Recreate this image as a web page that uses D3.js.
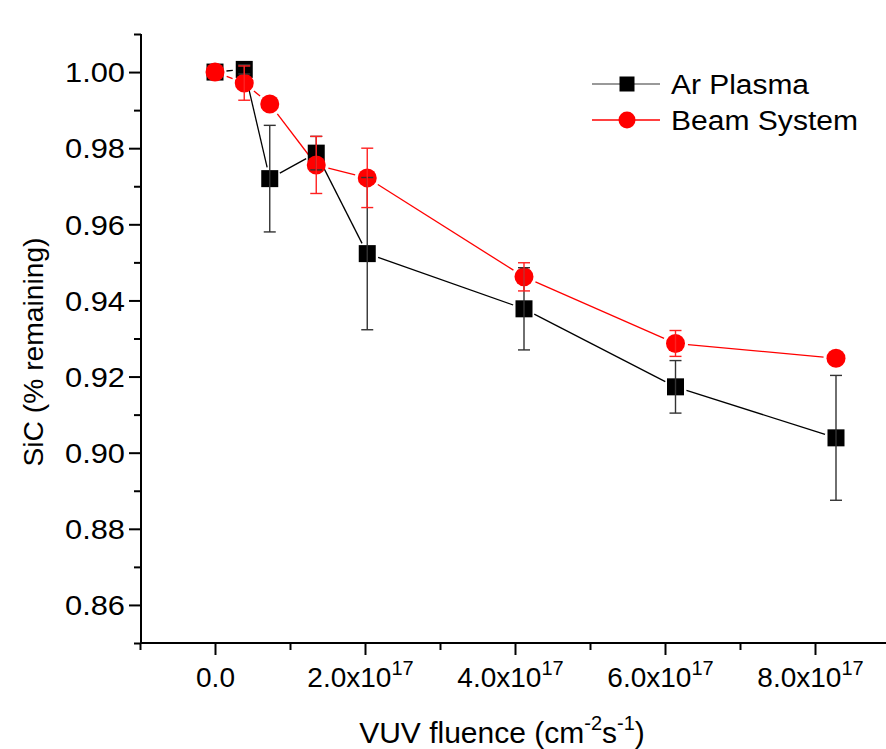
<!DOCTYPE html>
<html>
<head>
<meta charset="utf-8">
<script src="https://cdn.jsdelivr.net/npm/d3@7"></script>
<style>
  html, body { margin: 0; padding: 0; background: #fff; }
  svg { display: block; }
  text { font-family: "Liberation Sans", Arial, Helvetica, sans-serif; fill: #000; }
</style>
</head>
<body>
<svg id="chart" width="886" height="749"></svg>
<script>
// VUV fluence in units of 1e17 cm^-2 s^-1
const arFluence   = [0, 0.39, 0.73, 1.35, 2.03, 4.12, 6.14, 8.28];
const arValues    = [1.000, 1.0007, 0.9720, 0.9787, 0.9523, 0.9378, 0.9173, 0.9039];
const arErrors    = [0, 0.0012, 0.0140, 0.0044, 0.0200, 0.0108, 0.0069, 0.0164];

const beamFluence = [0, 0.39, 0.73, 1.35, 2.03, 4.12, 6.14, 8.28];
const beamValues  = [1.000, 0.9971, 0.9916, 0.9756, 0.9722, 0.9462, 0.9287, 0.9248];
const beamErrors  = [0, 0.0045, 0, 0.0075, 0.0078, 0.0037, 0.0034, 0];

const yMajorTicks = [0.86, 0.88, 0.90, 0.92, 0.94, 0.96, 0.98, 1.00];
const yMinorTicks = [0.85, 0.87, 0.89, 0.91, 0.93, 0.95, 0.97, 0.99, 1.01];
const xMajorTicks = [0, 2, 4, 6, 8];
const xMinorTicks = [-1, 1, 3, 5, 7];

const seriesNames = ["Ar Plasma", "Beam System"];

const svg = d3.select("#chart");

const x = d3.scaleLinear().domain([-1, 9]).range([140, 890]);
const y = d3.scaleLinear().domain([0.85, 1.01]).range([643, 34]);

const AX_X = 141, AX_Y = 643;

// ---- axes ----
const yAxisG = svg.append("g").attr("transform", `translate(${AX_X},0)`);
yAxisG.call(d3.axisLeft(y).tickValues(yMajorTicks).tickSize(12).tickSizeOuter(0)
  .tickFormat(d3.format(".2f")));
yAxisG.select(".domain").remove();
yAxisG.selectAll(".tick line").attr("stroke", "#000").attr("stroke-width", 2);
yAxisG.selectAll(".tick text").attr("x", -16).attr("dy", "0.36em")
  .style("font-size", "27px")
  .attr("textLength", 60).attr("lengthAdjust", "spacingAndGlyphs");

const yMinorG = svg.append("g").attr("transform", `translate(${AX_X},0)`);
yMinorG.call(d3.axisLeft(y).tickValues(yMinorTicks).tickSize(7).tickFormat(""));
yMinorG.select(".domain").remove();
yMinorG.selectAll(".tick line").attr("stroke", "#000").attr("stroke-width", 2);

const xAxisG = svg.append("g").attr("transform", `translate(0,${AX_Y})`);
xAxisG.call(d3.axisBottom(x).tickValues(xMajorTicks).tickSize(12).tickFormat(""));
xAxisG.select(".domain").remove();
xAxisG.selectAll(".tick line").attr("stroke", "#000").attr("stroke-width", 2);
xAxisG.selectAll(".tick").each(function (d) {
  const t = d3.select(this).append("text")
    .attr("y", 44).attr("text-anchor", "middle")
    .style("font-size", "28px");
  if (d === 0) {
    t.text("0.0");
  } else {
    t.attr("x", -5);
    t.append("tspan").text(d.toFixed(1) + "x10");
    t.append("tspan").attr("dy", -12).style("font-size", "20px").text("17");
  }
});

const xMinorG = svg.append("g").attr("transform", `translate(0,${AX_Y})`);
xMinorG.call(d3.axisBottom(x).tickValues(xMinorTicks).tickSize(7).tickFormat(""));
xMinorG.select(".domain").remove();
xMinorG.selectAll(".tick line").attr("stroke", "#000").attr("stroke-width", 2);

// axis lines
svg.append("line").attr("x1", AX_X).attr("x2", AX_X).attr("y1", y(1.01)).attr("y2", AX_Y + 1)
  .attr("stroke", "#000").attr("stroke-width", 2);
svg.append("line").attr("x1", AX_X - 1).attr("x2", 886).attr("y1", AX_Y).attr("y2", AX_Y)
  .attr("stroke", "#000").attr("stroke-width", 2);

// axis titles
const xTitle = svg.append("text").attr("x", 502).attr("y", 743).attr("text-anchor", "middle")
  .style("font-size", "30px");
xTitle.append("tspan").text("VUV fluence (cm");
xTitle.append("tspan").attr("dy", -13).style("font-size", "20px").text("-2");
xTitle.append("tspan").attr("dy", 13).text("s");
xTitle.append("tspan").attr("dy", -13).style("font-size", "20px").text("-1");
xTitle.append("tspan").attr("dy", 13).text(")");

svg.append("text").attr("transform", "translate(43,352) rotate(-90)")
  .attr("text-anchor", "middle").style("font-size", "28px")
  .attr("textLength", 229).attr("lengthAdjust", "spacingAndGlyphs")
  .text("SiC (% remaining)");

// ---- series ----
const series = [
  { name: seriesNames[0], xs: arFluence, ys: arValues, errs: arErrors,
    color: "#000", errColor: "#333", shape: "square", half: 8.5, legendLine: "#777", legendLen: 138 },
  { name: seriesNames[1], xs: beamFluence, ys: beamValues, errs: beamErrors,
    color: "#ff0000", errColor: "#ff2020", shape: "circle", half: 9.5, legendLine: "#ff0000", legendLen: 187 }
];

function pts(s) {
  return s.xs.map((v, i) => ({ px: x(v), py: y(s.ys[i]), err: s.errs[i], v: s.ys[i] }));
}

// connecting segments, stopping short of the markers
series.forEach(s => {
  const p = pts(s);
  const gap = s.half + 3;
  const segs = d3.pairs(p).map(([a, b]) => {
    const dx = b.px - a.px, dy = b.py - a.py, L = Math.hypot(dx, dy);
    if (L <= 2 * gap) return null;
    const ux = dx / L, uy = dy / L;
    return [a.px + ux * gap, a.py + uy * gap, b.px - ux * gap, b.py - uy * gap];
  }).filter(Boolean);
  svg.append("g").selectAll("line").data(segs).join("line")
    .attr("x1", d => d[0]).attr("y1", d => d[1]).attr("x2", d => d[2]).attr("y2", d => d[3])
    .attr("stroke", s.color).attr("stroke-width", 1.3);
});

// markers
series.forEach(s => {
  const g = svg.append("g");
  const p = pts(s);
  if (s.shape === "square") {
    g.selectAll("rect").data(p).join("rect")
      .attr("x", d => d.px - s.half).attr("y", d => d.py - s.half)
      .attr("width", s.half * 2).attr("height", s.half * 2).attr("fill", s.color);
  } else {
    g.selectAll("circle").data(p).join("circle")
      .attr("cx", d => d.px).attr("cy", d => d.py).attr("r", s.half).attr("fill", s.color);
  }
});

// error bars on top
series.forEach(s => {
  const g = svg.append("g").attr("stroke", s.errColor).attr("stroke-width", 1.4);
  pts(s).filter(d => d.err > 0).forEach(d => {
    const top = y(d.v + d.err), bot = y(d.v - d.err);
    g.append("line").attr("x1", d.px).attr("x2", d.px).attr("y1", top).attr("y2", bot);
    g.append("line").attr("x1", d.px - 6).attr("x2", d.px + 6).attr("y1", top).attr("y2", top);
    g.append("line").attr("x1", d.px - 6).attr("x2", d.px + 6).attr("y1", bot).attr("y2", bot);
  });
});

// ---- legend ----
const legend = svg.append("g");
series.forEach((s, i) => {
  const ly = 84 + i * 36;
  const g = legend.append("g");
  g.append("line").attr("x1", 592).attr("x2", 660).attr("y1", ly).attr("y2", ly)
    .attr("stroke", s.legendLine).attr("stroke-width", 1.5);
  if (s.shape === "square") {
    g.append("rect").attr("x", 627 - 7.5).attr("y", ly - 7.5).attr("width", 15).attr("height", 15)
      .attr("fill", s.color);
  } else {
    g.append("circle").attr("cx", 627).attr("cy", ly).attr("r", 8.5).attr("fill", s.color);
  }
  g.append("text").attr("x", 671).attr("y", ly + 9.5).style("font-size", "27px")
    .attr("textLength", s.legendLen).attr("lengthAdjust", "spacingAndGlyphs")
    .text(s.name);
});
</script>
</body>
</html>
